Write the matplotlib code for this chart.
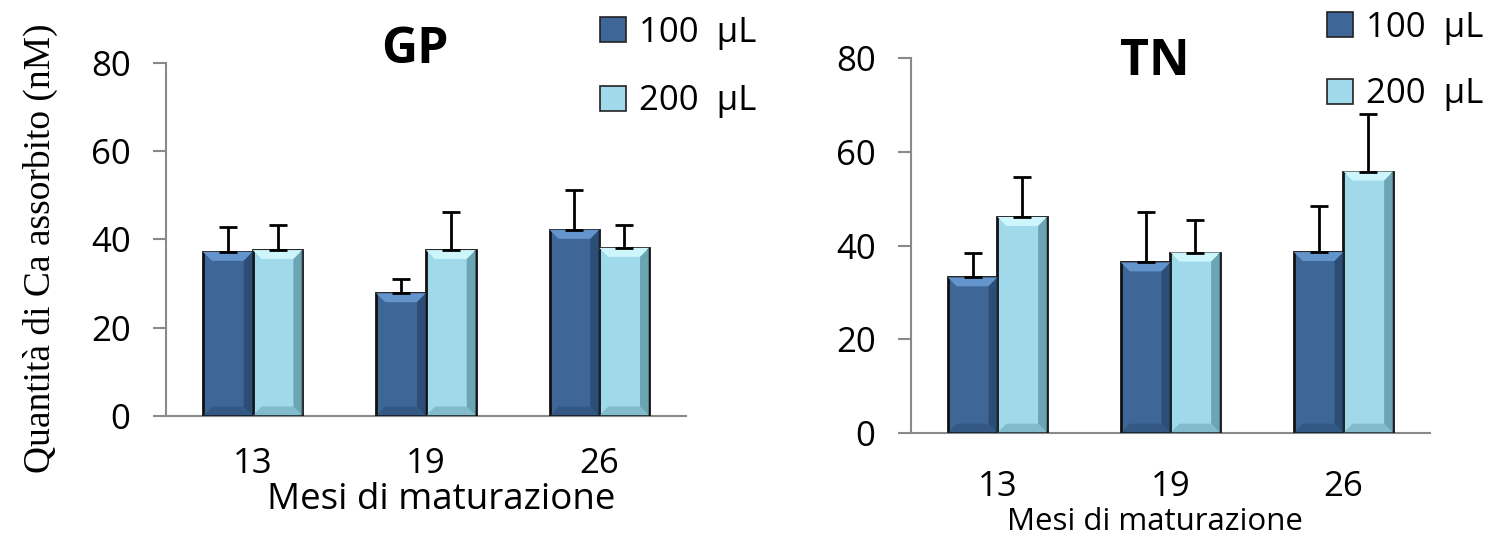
import numpy as np
import matplotlib
matplotlib.use("Agg")
import matplotlib.pyplot as plt
from matplotlib.patches import Patch, Polygon

# data
months = ["13", "19", "26"]
series = ["100  μL", "200  μL"]

gp_100 = [37.2, 27.8, 42.2]
gp_100_err = [5.6, 3.2, 9.1]
gp_200 = [37.6, 37.6, 38.1]
gp_200_err = [5.7, 8.7, 5.2]

tn_100 = [33.2, 36.4, 38.6]
tn_100_err = [5.3, 10.7, 9.9]
tn_200 = [46.1, 38.5, 55.8]
tn_200_err = [8.5, 6.9, 12.4]

yticks = [0, 20, 40, 60, 80]

dark = "#3e6797"
light = "#9fd9ea"
dark_top, dark_side = "#6494cc", "#27476e"
light_top, light_side = "#cdf6fc", "#5f97a6"
grey = "#8a8a8a"

plt.rcParams["font.family"] = ["Open Sans", "DejaVu Sans"]

fig = plt.figure(figsize=(15.01, 5.34), dpi=100)
ax1 = fig.add_axes([0.1106, 0.2219, 0.3464, 0.6592])
ax2 = fig.add_axes([0.6069, 0.1897, 0.3458, 0.7011])


def bevel(ax, bars, top_col, side_col, b=9):
    # little bevel on each bar, sized in screen pixels
    inv = ax.transData.inverted()
    for r in bars:
        x0, y0 = ax.transData.transform((r.get_x(), r.get_y()))
        x1, y1 = ax.transData.transform((r.get_x() + r.get_width(), r.get_y() + r.get_height()))
        top = [(x0, y1), (x1, y1), (x1 - b, y1 - b), (x0 + b, y1 - b)]
        right = [(x1, y1), (x1, y0), (x1 - b, y0 + b), (x1 - b, y1 - b)]
        bottom = [(x0, y0), (x1, y0), (x1 - b, y0 + b), (x0 + b, y0 + b)]
        for pts, c, a in [(top, top_col, 1.0), (right, side_col, 0.8), (bottom, side_col, 0.45)]:
            ax.add_patch(Polygon(inv.transform(pts), closed=True, facecolor=c,
                                 edgecolor="none", alpha=a, zorder=2.5))


def draw_panel(ax, v1, e1, v2, e2, title, title_xy, tick_pad, tick_size, xlabel_y, xlabel_size, xlabel_x):
    x = np.arange(len(months))
    w = 0.287
    ax.set_xlim(-0.5, 2.5)
    ax.set_ylim(0, 80)
    b1 = ax.bar(x - w / 2, v1, w, color=dark, edgecolor="#111111", linewidth=2, zorder=2)
    b2 = ax.bar(x + w / 2, v2, w, color=light, edgecolor="#111111", linewidth=2, zorder=2)
    ax.errorbar(x - w / 2, v1, yerr=[np.zeros(3), e1], fmt="none", ecolor="black",
                elinewidth=2, capsize=6.5, capthick=2, zorder=3)
    ax.errorbar(x + w / 2, v2, yerr=[np.zeros(3), e2], fmt="none", ecolor="black",
                elinewidth=2, capsize=6.5, capthick=2, zorder=3)
    fig.canvas.draw()
    bevel(ax, b1, dark_top, dark_side)
    bevel(ax, b2, light_top, light_side)

    for s in ["top", "right"]:
        ax.spines[s].set_visible(False)
    for s in ["left", "bottom"]:
        ax.spines[s].set_color(grey)
        ax.spines[s].set_linewidth(1.5)
    ax.spines["bottom"].set_zorder(1)
    ax.set_yticks(yticks)
    ax.set_xticks(x)
    ax.set_xticklabels(months)
    ax.tick_params(axis="y", direction="out", length=9.5, width=1.5, color=grey,
                   labelsize=25, pad=16)
    ax.tick_params(axis="x", length=0, labelsize=tick_size, pad=tick_pad)
    ax.set_xlabel("Mesi di maturazione", fontsize=xlabel_size)
    ax.xaxis.set_label_coords(xlabel_x, xlabel_y)
    ax.xaxis.label.set_va("center")
    fig.text(title_xy[0], title_xy[1], title, fontsize=36, fontweight="bold",
             ha="center", va="center")


draw_panel(ax1, gp_100, gp_100_err, gp_200, gp_200_err, "GP", (415 / 1501, 1 - 50 / 534),
           tick_pad=23, tick_size=25, xlabel_y=-0.24, xlabel_size=26.5, xlabel_x=0.53)
draw_panel(ax2, tn_100, tn_100_err, tn_200, tn_200_err, "TN", (1155 / 1501, 1 - 62 / 534),
           tick_pad=27, tick_size=25, xlabel_y=-0.238, xlabel_size=22.5, xlabel_x=0.47)

ax1.set_ylabel("Quantità di Ca assorbito (nM)", fontsize=27,
               fontfamily=["Liberation Serif", "DejaVu Serif"])
ax1.yaxis.set_label_coords(-0.242, 0.476)
ax1.yaxis.label.set_va("center")

handles = [Patch(facecolor=dark, edgecolor="#222222", linewidth=1.2),
           Patch(facecolor=light, edgecolor="#222222", linewidth=1.2)]
leg_kw = dict(frameon=False, loc="center left", borderpad=0, handlelength=0.75,
              handleheight=0.75, handletextpad=0.35, fontsize=25)
fig.legend(handles, series, bbox_to_anchor=(583 / 1501, 1 - 67 / 534), labelspacing=1.0, **leg_kw)
fig.legend(handles, series, bbox_to_anchor=(1310 / 1501, 1 - 61 / 534), labelspacing=0.95, **leg_kw)

fig.savefig("out.png", dpi=100)
